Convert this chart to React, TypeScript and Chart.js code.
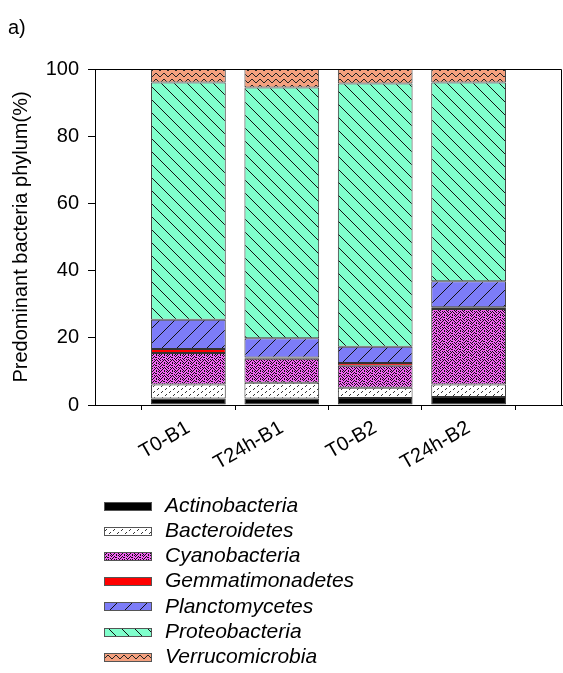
import { useEffect, useRef } from 'react';
import { Chart, registerables } from 'chart.js';

Chart.register(...registerables);

const samples = ['T0-B1', 'T24h-B1', 'T0-B2', 'T24h-B2'];
const phyla = [
  'Actinobacteria',
  'Bacteroidetes',
  'Cyanobacteria',
  'Gemmatimonadetes',
  'Planctomycetes',
  'Proteobacteria',
  'Verrucomicrobia',
];
const actinobacteria = [1.9, 1.9, 2.1, 2.4];
const bacteroidetes = [4.2, 4.7, 3.0, 3.7];
const cyanobacteria = [9.4, 7.2, 6.6, 22.5];
const gemmatimonadetes = [1.2, 0.3, 0.8, 0.5];
const planctomycetes = [8.7, 5.8, 4.8, 7.7];
const proteobacteria = [70.6, 74.6, 78.4, 59.2];
const verrucomicrobia = [4.0, 5.5, 4.3, 4.0];
const yTickValues = [0, 20, 40, 60, 80, 100];

const series = [
  actinobacteria,
  bacteroidetes,
  cyanobacteria,
  gemmatimonadetes,
  planctomycetes,
  proteobacteria,
  verrucomicrobia,
];

const FONT = '"Liberation Sans", Arial, sans-serif';

function tile(w: number, h: number, draw: (c: CanvasRenderingContext2D) => void) {
  const cv = document.createElement('canvas');
  cv.width = w;
  cv.height = h;
  const c = cv.getContext('2d')!;
  draw(c);
  return cv;
}

function pixels(c: CanvasRenderingContext2D, map: string[], color: string) {
  c.fillStyle = color;
  map.forEach((row, y) => {
    for (let x = 0; x < row.length; x++) if (row[x] === '#') c.fillRect(x, y, 1, 1);
  });
}

function makeFills(ctx: CanvasRenderingContext2D): (string | CanvasPattern)[] {
  const bact = tile(8, 6, (c) => {
    c.fillStyle = '#ffffff';
    c.fillRect(0, 0, 8, 6);
    pixels(c, ['........', '..#.....', '.#......', '........', '......#.', '.....#..'], '#333');
  });
  const cyano = tile(8, 8, (c) => {
    c.fillStyle = '#f264f2';
    c.fillRect(0, 0, 8, 8);
    pixels(
      c,
      ['#..#.#..', '..#...#.', '.#..#..#', '#...#.#.', '..#....#', '.#.##...', '#.....#.', '..#.#..#'],
      '#111'
    );
  });
  const planc = tile(15, 15, (c) => {
    c.fillStyle = '#7c7cf8';
    c.fillRect(0, 0, 15, 15);
    c.fillStyle = '#111';
    for (let i = 0; i < 15; i++) c.fillRect(14 - i, i, 1, 1);
  });
  const proteo = tile(13, 13, (c) => {
    c.fillStyle = '#80ffcc';
    c.fillRect(0, 0, 13, 13);
    c.fillStyle = '#111';
    for (let i = 0; i < 13; i++) c.fillRect(i, i, 1, 1);
  });
  const verru = tile(8, 6, (c) => {
    c.fillStyle = '#f4a07e';
    c.fillRect(0, 0, 8, 6);
    pixels(c, ['........', '...##...', '..#..#..', '.#....#.', '#......#', '........'], '#222');
  });
  const p = (cv: HTMLCanvasElement) => ctx.createPattern(cv, 'repeat')!;
  return ['#000000', p(bact), p(cyano), '#ff0000', p(planc), p(proteo), p(verru)];
}

const framePlugin = {
  id: 'frameAndLegend',
  afterDraw(chart: any) {
    const { ctx, chartArea } = chart;
    ctx.save();
    ctx.strokeStyle = '#000';
    ctx.lineWidth = 1;
    ctx.beginPath();
    ctx.moveTo(chartArea.left, Math.round(chartArea.top) + 0.5);
    ctx.lineTo(Math.round(chartArea.right) - 0.5, Math.round(chartArea.top) + 0.5);
    ctx.lineTo(Math.round(chartArea.right) - 0.5, chartArea.bottom);
    ctx.stroke();

    ctx.fillStyle = '#000';
    ctx.font = `20px ${FONT}`;
    ctx.textAlign = 'left';
    ctx.textBaseline = 'alphabetic';
    ctx.fillText('a)', 8, 34);

    chart.data.datasets.forEach((ds: any, i: number) => {
      const cy = 506 + i * 25.2;
      ctx.fillStyle = ds.backgroundColor;
      ctx.fillRect(104, Math.round(cy - 4.5), 48, 9);
      ctx.strokeStyle = '#555';
      ctx.strokeRect(104.5, Math.round(cy - 4.5) + 0.5, 47, 8);
      ctx.fillStyle = '#000';
      ctx.font = `italic 21px ${FONT}`;
      ctx.textBaseline = 'middle';
      ctx.fillText(ds.label, 165, cy);
    });
    ctx.restore();
  },
};

export default function App() {
  const ref = useRef<HTMLCanvasElement | null>(null);
  useEffect(() => {
    const canvas = ref.current!;
    const ctx = canvas.getContext('2d')!;
    const fills = makeFills(ctx);
    const chart = new Chart(canvas, {
      type: 'bar',
      data: {
        datasets: phyla.map((name, i) => ({
          label: name,
          data: series[i].map((v, j) => ({ x: j + 1, y: v })),
          backgroundColor: fills[i] as any,
          borderColor: '#333',
          borderWidth: 1,
          borderSkipped: false,
          barPercentage: 0.8,
          categoryPercentage: 1,
        })),
      },
      options: {
        responsive: false,
        animation: false,
        events: [],
        devicePixelRatio: 1,
        layout: { padding: { top: 69, right: 1, bottom: 0, left: 0 } },
        plugins: {
          legend: { display: false },
          tooltip: { enabled: false },
        },
        scales: {
          x: {
            type: 'linear',
            min: 0,
            max: 5,
            offset: false,
            stacked: true,
            afterBuildTicks: (s: any) => {
              s.ticks = samples.map((_, i) => ({ value: i + 1 }));
            },
            afterFit: (s: any) => {
              s.height = 268;
            },
            ticks: {
              autoSkip: false,
              minRotation: 30,
              maxRotation: 30,
              padding: 6,
              color: '#000',
              font: { family: FONT, size: 20 },
              callback: (v: any) => samples[Number(v) - 1] ?? '',
            },
            grid: { display: true, drawOnChartArea: false, drawTicks: true, tickLength: 5, color: '#000' },
            border: { display: true, color: '#000', width: 1 },
          },
          y: {
            type: 'linear',
            min: 0,
            max: 100,
            stacked: true,
            afterBuildTicks: (s: any) => {
              s.ticks = yTickValues.map((v) => ({ value: v }));
            },
            afterFit: (s: any) => {
              s.width = 95;
            },
            ticks: {
              color: '#000',
              padding: 9,
              font: { family: FONT, size: 20 },
            },
            grid: { display: true, drawOnChartArea: false, drawTicks: true, tickLength: 7, color: '#000' },
            border: { display: true, color: '#000', width: 1 },
            title: {
              display: true,
              text: 'Predominant bacteria phylum(%)',
              color: '#000',
              font: { family: FONT, size: 20 },
              padding: { top: 9, bottom: 0 },
            },
          },
        },
      },
      plugins: [framePlugin],
    });
    return () => chart.destroy();
  }, []);
  return (
    <div style={{ position: 'absolute', left: 0, top: 0, width: 563, height: 673, background: '#fff' }}>
      <canvas ref={ref} width={563} height={673} style={{ display: 'block' }} />
    </div>
  );
}
